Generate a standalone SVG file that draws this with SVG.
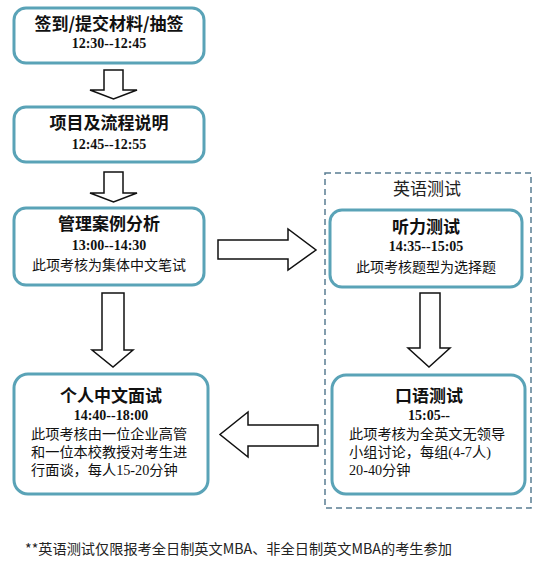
<svg xmlns="http://www.w3.org/2000/svg" width="545" height="562" viewBox="0 0 545 562">
<style>
.box{fill:#fff;stroke:#5aa3b7;stroke-width:3}
.arr{fill:#fff;stroke:#111;stroke-width:1.5;stroke-linejoin:miter}
.t{font-family:"Noto Sans CJK SC",sans-serif;font-weight:bold;font-size:17px;fill:#111;text-anchor:middle}
.tm{font-family:"Liberation Serif",serif;font-weight:bold;font-size:14px;fill:#111;text-anchor:middle}
.d{font-family:"Noto Sans CJK SC",sans-serif;font-size:14px;fill:#111;text-anchor:middle}
.dl{font-family:"Liberation Serif","Noto Sans CJK SC",serif;font-size:14.2px;fill:#111}
.lbl{font-family:"Noto Sans CJK SC",sans-serif;font-size:17px;fill:#222;text-anchor:middle}
.note{font-family:"Noto Sans CJK SC",sans-serif;font-size:14.2px;fill:#222}
</style>
<rect width="545" height="562" fill="#fff"/>
<g id="english-group">
<rect x="325" y="173" width="206" height="335" fill="none" stroke="#5a7d93" stroke-width="1.5" stroke-dasharray="6,4"/>
<text class="lbl" x="427" y="195">英语测试</text>
</g>
<g id="n1">
<rect class="box" x="14" y="8" width="190" height="55" rx="12"/>
<text class="t" x="109" y="30">签到/提交材料/抽签</text>
<text class="tm" x="109" y="48">12:30--12:45</text>
</g>
<g id="n2">
<rect class="box" x="14" y="107" width="190" height="55" rx="12"/>
<text class="t" x="109" y="129">项目及流程说明</text>
<text class="tm" x="109" y="149">12:45--12:55</text>
</g>
<g id="n3">
<rect class="box" x="14" y="208" width="190" height="77" rx="12"/>
<text class="t" x="109" y="230">管理案例分析</text>
<text class="tm" x="109" y="250">13:00--14:30</text>
<text class="d" x="109" y="270">此项考核为集体中文笔试</text>
</g>
<g id="n4">
<rect class="box" x="14" y="374" width="194" height="120" rx="14"/>
<text class="t" x="111" y="402">个人中文面试</text>
<text class="tm" x="111" y="420">14:40--18:00</text>
<text class="dl" x="31" y="439">此项考核由一位企业高管</text>
<text class="dl" x="31" y="457">和一位本校教授对考生进</text>
<text class="dl" x="31" y="475">行面谈，每人15-20分钟</text>
</g>
<g id="n5">
<rect class="box" x="330" y="210" width="192" height="77" rx="12"/>
<text class="t" x="426" y="233">听力测试</text>
<text class="tm" x="426" y="251">14:35--15:05</text>
<text class="d" x="426" y="272">此项考核题型为选择题</text>
</g>
<g id="n6">
<rect class="box" x="332" y="375" width="193" height="119" rx="14"/>
<text class="t" x="429" y="402">口语测试</text>
<text class="tm" x="429" y="420">15:05--</text>
<text class="dl" x="349" y="439">此项考核为全英文无领导</text>
<text class="dl" x="349" y="457">小组讨论，每组(4-7人)</text>
<text class="dl" x="349" y="475">20-40分钟</text>
</g>
<g id="connectors">
<polygon class="arr" points="104,70 123,70 123,90 137,90 113.5,99 90,90 104,90"/>
<polygon class="arr" points="104,172 123,172 123,193 137,193 113.5,202 90,193 104,193"/>
<polygon class="arr" points="218,240 288,240 288,229 316,250 288,270 288,259 218,259"/>
<polygon class="arr" points="102,293 124,293 124,350 133,350 113,367 92,350 102,350"/>
<polygon class="arr" points="420,293 440,293 440,348 450,348 429,367 408,348 420,348"/>
<polygon class="arr" points="318,425 248,425 248,412 220,434.5 248,457 248,446 318,446"/>
</g>
<text class="note" x="25" y="554">**英语测试仅限报考全日制英文MBA、非全日制英文MBA的考生参加</text>
</svg>
